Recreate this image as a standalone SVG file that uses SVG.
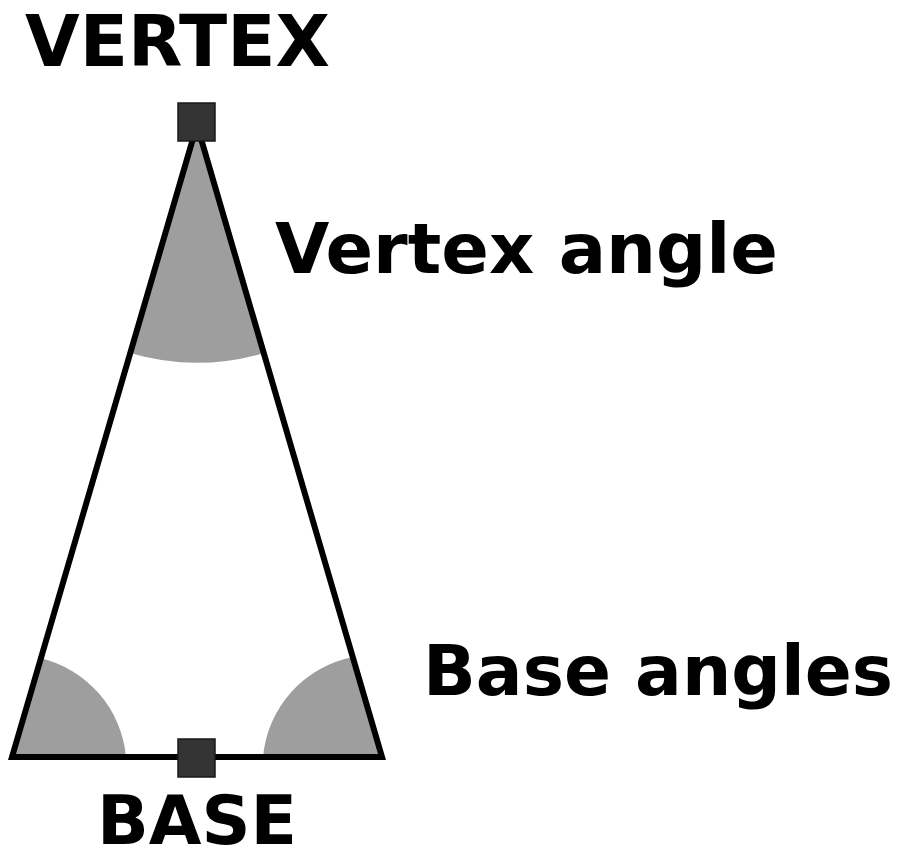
<svg xmlns="http://www.w3.org/2000/svg" width="904" height="860" viewBox="0 0 904 860">
  <style>
    .lbl { font-family: "DejaVu Sans", "Liberation Sans", sans-serif; font-weight: bold; fill: #000; }
    .ang { fill: #9e9e9e; stroke: none; }
    .edge { fill: none; stroke: #000; stroke-width: 6; stroke-linejoin: miter; stroke-miterlimit: 10; }
    .pt { fill: #333; stroke: #1a1a1a; stroke-width: 1.5; }
  </style>
  <rect width="904" height="860" fill="#fff"/>
  <g id="angles">
    <path class="ang" d="M 197 125 L 130 353 A 238 238 0 0 0 264 353 Z"/>
    <path class="ang" d="M 12 757 L 126 757 A 112 112 0 0 0 40 658 Z"/>
    <path class="ang" d="M 382 757 L 263 757 A 112 112 0 0 1 353 657 Z"/>
  </g>
  <g id="connectors">
    <path class="edge" d="M 12 757 L 197 125 L 382 757 Z"/>
  </g>
  <g id="vertex-node">
    <rect class="pt" x="178" y="103" width="37" height="38"/>
  </g>
  <g id="base-node">
    <rect class="pt" x="178" y="739" width="37" height="38"/>
  </g>
  <g id="label-vertex">
    <text class="lbl" x="25" y="66" font-size="72" textLength="305" lengthAdjust="spacingAndGlyphs">VERTEX</text>
  </g>
  <g id="label-vertex-angle">
    <text class="lbl" x="275" y="273" font-size="69" textLength="503" lengthAdjust="spacingAndGlyphs">Vertex angle</text>
  </g>
  <g id="label-base-angles">
    <text class="lbl" x="423" y="695" font-size="69" textLength="470" lengthAdjust="spacingAndGlyphs">Base angles</text>
  </g>
  <g id="label-base">
    <text class="lbl" x="97" y="844" font-size="68" textLength="200" lengthAdjust="spacingAndGlyphs">BASE</text>
  </g>
</svg>
